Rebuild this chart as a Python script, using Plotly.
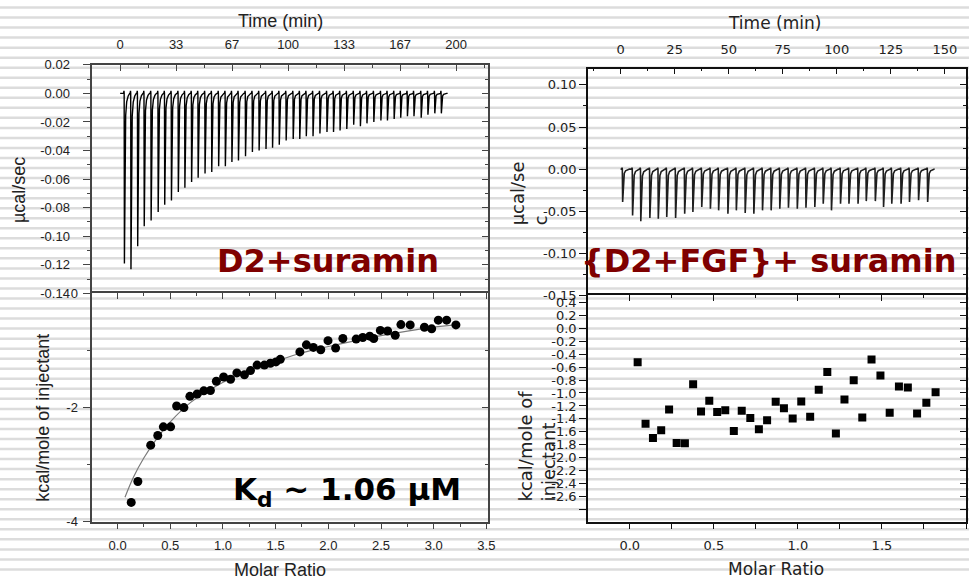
import plotly.graph_objects as go

# ---------------- data ----------------
# D2 + suramin: raw heat flow, injection times (min) and peak minima (µcal/sec)
left_inj_time = [2.4, 6.3, 10.3, 14.2, 18.3, 22.5, 26.4, 30.4, 34.5, 38.4,
                 42.4, 46.3, 50.4, 54.4, 58.5, 62.5, 66.4, 70.3, 74.5, 78.6,
                 82.6, 86.7, 90.6, 94.6, 98.7, 102.9, 106.8, 110.7, 114.7, 118.8,
                 123.0, 126.9, 130.8, 134.8, 138.9, 142.9, 146.8, 150.9, 155.1, 159.0,
                 163.0, 166.9, 170.9, 174.8, 179.1, 183.1, 187.2, 191.1]
left_inj_peak = [-0.119, -0.123, -0.107, -0.093, -0.089, -0.083, -0.078, -0.075, -0.069, -0.066,
                 -0.062, -0.059, -0.056, -0.055, -0.051, -0.051, -0.048, -0.047, -0.044, -0.041,
                 -0.040, -0.039, -0.038, -0.036, -0.033, -0.032, -0.032, -0.030, -0.030, -0.028,
                 -0.027, -0.027, -0.026, -0.025, -0.022, -0.023, -0.021, -0.020, -0.019, -0.019,
                 -0.018, -0.017, -0.016, -0.016, -0.017, -0.015, -0.014, -0.014]
left_run = [0.0, 195.0]

# D2 + suramin: integrated heats and fitted isotherm
left_ratio = [0.129, 0.192, 0.314, 0.381, 0.434, 0.503, 0.560, 0.629, 0.686, 0.755,
              0.818, 0.881, 0.937, 1.006, 1.072, 1.132, 1.204, 1.261, 1.324, 1.393,
              1.450, 1.503, 1.544, 1.730, 1.792, 1.858, 1.928, 1.997, 2.069, 2.138,
              2.264, 2.327, 2.393, 2.431, 2.494, 2.563, 2.635, 2.689, 2.777, 2.912,
              2.981, 3.044, 3.123, 3.211]
left_heat = [-3.662, -3.296, -2.659, -2.490, -2.338, -2.338, -1.972, -2.000, -1.803, -1.763,
             -1.707, -1.701, -1.538, -1.465, -1.504, -1.392, -1.425, -1.352, -1.256, -1.256,
             -1.223, -1.200, -1.155, -1.025, -0.901, -0.946, -0.986, -0.828, -0.958, -0.789,
             -0.800, -0.772, -0.749, -0.789, -0.648, -0.659, -0.732, -0.546, -0.552, -0.592,
             -0.620, -0.468, -0.468, -0.552]
fit_ratio = [0.07, 0.15, 0.25, 0.35, 0.5, 0.7, 0.9, 1.1, 1.3, 1.5,
             1.75, 2.0, 2.25, 2.5, 2.75, 3.0, 3.2]
fit_heat = [-3.57, -3.22, -2.88, -2.60, -2.25, -1.90, -1.66, -1.47, -1.32, -1.19,
            -1.04, -0.93, -0.83, -0.74, -0.66, -0.59, -0.55]

# {D2+FGF} + suramin: raw heat flow
right_inj_time = [0.8, 5.4, 9.2, 13.4, 17.3, 21.2, 25.3, 29.5, 33.3, 37.4,
                  41.4, 45.2, 49.5, 53.4, 57.5, 61.5, 65.5, 69.5, 73.5, 77.5,
                  81.6, 85.6, 89.7, 93.6, 97.4, 101.6, 105.5, 109.7, 113.5, 117.7,
                  121.5, 125.3, 129.6, 133.5, 137.7, 141.9]
right_inj_peak = [-0.039, -0.055, -0.062, -0.058, -0.059, -0.057, -0.058, -0.053, -0.051, -0.045,
                  -0.047, -0.049, -0.053, -0.049, -0.052, -0.053, -0.049, -0.049, -0.047, -0.046,
                  -0.047, -0.046, -0.045, -0.041, -0.049, -0.041, -0.041, -0.041, -0.038, -0.038,
                  -0.045, -0.041, -0.041, -0.039, -0.037, -0.039]
right_run = [0.0, 145.0]

# {D2+FGF} + suramin: integrated heats
right_ratio = [0.047, 0.094, 0.138, 0.187, 0.234, 0.279, 0.328, 0.377, 0.424, 0.473,
               0.520, 0.568, 0.619, 0.666, 0.717, 0.768, 0.817, 0.868, 0.917, 0.969,
               1.020, 1.073, 1.124, 1.175, 1.226, 1.277, 1.332, 1.383, 1.438, 1.491,
               1.546, 1.601, 1.654, 1.709, 1.764, 1.819]
right_heat = [-0.525, -1.475, -1.695, -1.575, -1.255, -1.770, -1.775, -0.865, -1.285, -1.120,
              -1.295, -1.265, -1.585, -1.275, -1.385, -1.560, -1.420, -1.135, -1.235, -1.395,
              -1.130, -1.365, -0.950, -0.675, -1.625, -1.100, -0.805, -1.380, -0.485, -0.730,
              -1.305, -0.900, -0.915, -1.315, -1.150, -0.990]

# tick values / labels
lt_time_ticks = [0, 100 / 3, 200 / 3, 100, 400 / 3, 500 / 3, 200]
lt_time_labels = ["0", "33", "67", "100", "133", "167", "200"]
lt_time_minor = [50 / 3, 50, 250 / 3, 350 / 3, 150, 550 / 3, 650 / 3]
lt_flow_ticks = [0.02, 0.0, -0.02, -0.04, -0.06, -0.08, -0.10, -0.12, -0.14]
lt_flow_labels = ["0.02", "0.00", "-0.02", "-0.04", "-0.06", "-0.08", "-0.10", "-0.12", "-0.14"]
lb_heat_ticks = [0, -2, -4]
lb_heat_labels = ["0", "-2", "-4"]
lb_ratio_ticks = [0.0, 0.5, 1.0, 1.5, 2.0, 2.5, 3.0, 3.5]
lb_ratio_labels = ["0.0", "0.5", "1.0", "1.5", "2.0", "2.5", "3.0", "3.5"]
rt_time_ticks = [0, 25, 50, 75, 100, 125, 150]
rt_time_labels = ["0", "25", "50", "75", "100", "125", "150"]
rt_flow_ticks = [0.10, 0.05, 0.0, -0.05, -0.10, -0.15]
rt_flow_labels = ["0.10", "0.05", "0.00", "-0.05", "-0.10", "-0.15"]
rb_heat_ticks = [0.4, 0.2, 0.0, -0.2, -0.4, -0.6, -0.8, -1.0, -1.2, -1.4,
                 -1.6, -1.8, -2.0, -2.2, -2.4, -2.6, -2.8]
rb_heat_labels = ["0.4", "0.2", "0.0", "-0.2", "-0.4", "-0.6", "-0.8", "-1.0", "-1.2", "-1.4",
                  "-1.6", "-1.8", "-2.0", "-2.2", "-2.4", "-2.6", " "]
rb_ratio_ticks = [0.0, 0.5, 1.0, 1.5, 2.0]
rb_ratio_labels = ["0.0", "0.5", "1.0", "1.5", "2.0"]

# ---------------- helpers ----------------
W, H = 976, 583


def fx(px):
    return px / W


def fy(py):
    return 1 - py / H


def thermogram(times, peaks, run):
    """Heat-flow trace: baseline with a sharp exothermic spike at every injection."""
    xs, ys = [run[0]], [0.0]
    for t, p in zip(times, peaks):
        xs += [t - 0.3, t - 0.12, t, t + 0.15, t + 0.5, t + 0.9, t + 1.5, t + 2.4, t + 3.3]
        ys += [0.0, 0.0018, 0.0, p, p * 0.35, p * 0.13, p * 0.05, p * 0.015, 0.0]
    xs.append(run[1])
    ys.append(0.0)
    return xs, ys


SANS_L = "Liberation Sans, Arial, sans-serif"
SANS_R = "DejaVu Sans, Verdana, sans-serif"
BOLD_R = "DejaVu Sans, Verdana, sans-serif"
TXT = "#222222"


def base_axis(font, linecolor, mirror=True):
    return dict(showgrid=False, zeroline=False, showline=True, mirror=mirror,
                linecolor=linecolor, linewidth=1.6, tickcolor=linecolor,
                tickwidth=1.2, tickfont=dict(family=font, size=13, color=TXT),
                fixedrange=True)


def overlay_axis(over, side, anchor, rng, tickvals, minor_vals, color, ticklen=6):
    return dict(overlaying=over, side=side, anchor=anchor, range=rng,
                showgrid=False, zeroline=False, showline=False,
                showticklabels=False, ticks="inside", ticklen=ticklen,
                tickcolor=color, tickwidth=1.2,
                tickmode="array", tickvals=tickvals,
                minor=dict(ticks="inside", ticklen=3, tickcolor=color,
                           tickmode="array", tickvals=minor_vals),
                fixedrange=True)


LC = "#444444"   # frame colour, left panel
RC = "#111111"   # frame colour, right panel

# panel rectangles (pixels)
L_X = [93, 492]
R_X = [592.3, 973]
LT_Y = [59.3, 294]
LB_Y = [294, 528.3]
RT_Y = [63.3, 296]
RB_Y = [296, 528.3]

# ranges
lt_xr = [-16.55, 219.3]
lt_yr = [-0.14, 0.02]
lb_xr = [-0.24, 3.52]
lb_yr = [-4.0, 0.0]
rt_xr = [-15.05, 159.8]
rt_yr = [-0.15, 0.1193]
rb_xr = [-0.248, 2.0]
rb_yr = [-2.985, 0.505]

fig = go.Figure()

lx, ly = thermogram(left_inj_time, left_inj_peak, left_run)
fig.add_trace(go.Scatter(x=lx, y=ly, mode="lines", xaxis="x", yaxis="y",
                         line=dict(color="black", width=1.4)))
fig.add_trace(go.Scatter(x=fit_ratio, y=fit_heat, mode="lines", xaxis="x2", yaxis="y2",
                         line=dict(color="#7a7a7a", width=1.2, shape="spline")))
fig.add_trace(go.Scatter(x=left_ratio, y=left_heat, mode="markers", xaxis="x2", yaxis="y2",
                         marker=dict(symbol="circle", size=9, color="black")))
rx, ry = thermogram(right_inj_time, right_inj_peak, right_run)
fig.add_trace(go.Scatter(x=rx, y=ry, mode="lines", xaxis="x3", yaxis="y3",
                         line=dict(color="#1e1e1e", width=1.6)))
fig.add_trace(go.Scatter(x=right_ratio, y=right_heat, mode="markers", xaxis="x4", yaxis="y4",
                         marker=dict(symbol="square", size=8, color="black")))

# empty traces so the overlaid tick-only axes get drawn
for xa, ya in [("x", "y5"), ("x6", "y2"), ("x2", "y6"), ("x3", "y7"), ("x8", "y4"), ("x4", "y8")]:
    fig.add_trace(go.Scatter(x=[None], y=[None], xaxis=xa, yaxis=ya, hoverinfo="skip"))

layout = dict(
    width=W, height=H, margin=dict(l=0, r=0, t=0, b=0),
    paper_bgcolor="white", plot_bgcolor="rgba(0,0,0,0)", showlegend=False,
)

# left top: time / heat flow (its lower edge is drawn by the panel below)
layout["xaxis"] = dict(base_axis(SANS_L, LC, mirror=False), domain=[fx(L_X[0]), fx(L_X[1])],
                       anchor="y", side="top", range=lt_xr, tickmode="array",
                       tickvals=lt_time_ticks, ticktext=lt_time_labels, ticks="inside",
                       ticklen=6, ticklabelstandoff=9,
                       minor=dict(ticks="inside", ticklen=3, tickcolor=LC,
                                  tickmode="array", tickvals=lt_time_minor))
layout["yaxis"] = dict(base_axis(SANS_L, LC), domain=[fy(LT_Y[1]), fy(LT_Y[0])], anchor="x",
                       range=lt_yr, tickmode="array", tickvals=lt_flow_ticks,
                       ticktext=lt_flow_labels, ticks="outside", ticklen=8,
                       ticklabelstandoff=10,
                       minor=dict(ticks="outside", ticklen=4, tickcolor=LC, dtick=0.01, tick0=0))
layout["yaxis5"] = overlay_axis("y", "right", "x", lt_yr, lt_flow_ticks,
                                [0.01 - 0.02 * k for k in range(8)], LC)

# left bottom: molar ratio / integrated heat
layout["xaxis2"] = dict(base_axis(SANS_L, LC), domain=[fx(L_X[0]), fx(L_X[1])], anchor="y2",
                        range=lb_xr, tickmode="array", tickvals=lb_ratio_ticks,
                        ticktext=lb_ratio_labels, ticks="outside", ticklen=5,
                        ticklabelstandoff=6,
                        minor=dict(ticks="outside", ticklen=3, tickcolor=LC, dtick=0.25, tick0=0))
layout["xaxis6"] = overlay_axis("x2", "top", "y2", lb_xr, lb_ratio_ticks,
                                [0.25 + 0.5 * k for k in range(7)], LC)
layout["yaxis2"] = dict(base_axis(SANS_L, LC), domain=[fy(LB_Y[1]), fy(LB_Y[0])], anchor="x2",
                        range=lb_yr, tickmode="array", tickvals=lb_heat_ticks,
                        ticktext=lb_heat_labels, ticks="outside", ticklen=8,
                        ticklabelstandoff=2,
                        minor=dict(ticks="outside", ticklen=4, tickcolor=LC, dtick=1, tick0=0))
layout["yaxis6"] = overlay_axis("y2", "right", "x2", lb_yr, lb_heat_ticks, [-1, -3], LC)

# right top
layout["xaxis3"] = dict(base_axis(SANS_R, RC, mirror=False), domain=[fx(R_X[0]), fx(R_X[1])],
                        anchor="y3", side="top", range=rt_xr, tickmode="array",
                        tickvals=rt_time_ticks, ticktext=rt_time_labels, ticks="inside",
                        ticklen=6, ticklabelstandoff=8,
                        minor=dict(ticks="inside", ticklen=3, tickcolor=RC, dtick=12.5, tick0=0))
layout["yaxis3"] = dict(base_axis(SANS_R, RC), domain=[fy(RT_Y[1]), fy(RT_Y[0])], anchor="x3",
                        range=rt_yr, tickmode="array", tickvals=rt_flow_ticks,
                        ticktext=rt_flow_labels, ticks="outside", ticklen=7,
                        ticklabelstandoff=0,
                        minor=dict(ticks="outside", ticklen=3, tickcolor=RC, dtick=0.025, tick0=0))
layout["yaxis7"] = overlay_axis("y3", "right", "x3", rt_yr, rt_flow_ticks,
                                [0.075 - 0.05 * k for k in range(5)], RC)

# right bottom
layout["xaxis4"] = dict(base_axis(SANS_R, RC), domain=[fx(R_X[0]), fx(R_X[1])], anchor="y4",
                        range=rb_xr, tickmode="array", tickvals=rb_ratio_ticks,
                        ticktext=rb_ratio_labels, ticks="outside", ticklen=5,
                        ticklabelstandoff=6,
                        minor=dict(ticks="outside", ticklen=5, tickcolor=RC, dtick=0.25, tick0=0))
layout["xaxis8"] = overlay_axis("x4", "top", "y4", rb_xr, rb_ratio_ticks,
                                [0.25 + 0.5 * k for k in range(4)], RC)
layout["yaxis4"] = dict(base_axis(SANS_R, RC), domain=[fy(RB_Y[1]), fy(RB_Y[0])], anchor="x4",
                        range=rb_yr, tickmode="array", tickvals=rb_heat_ticks,
                        ticktext=rb_heat_labels, ticks="outside", ticklen=7,
                        ticklabelstandoff=0)
layout["yaxis8"] = overlay_axis("y4", "right", "x4", rb_yr, rb_heat_ticks, [], RC)

fig.update_layout(**layout)

# striped slide background
stripes = []
y = 0.5
while y < H:
    stripes.append(dict(type="line", xref="paper", yref="paper", x0=0, x1=1,
                        y0=fy(y), y1=fy(y), layer="below",
                        line=dict(color="#dcdcdc", width=2.5)))
    y += 10.3
fig.update_layout(shapes=stripes)

# titles and captions
ann = []


def text(t, x, y, font, size, color=TXT, angle=0, xanchor="center", yanchor="middle", align="center", bold=False):
    ann.append(dict(text=f"<b>{t}</b>" if bold else t, x=fx(x), y=fy(y), xref="paper", yref="paper",
                    showarrow=False, textangle=angle, xanchor=xanchor, yanchor=yanchor,
                    align=align, font=dict(family=font, size=size, color=color)))


text("Time (min)", 283, 14, SANS_L, 18)
text("µcal/sec", 19, 188, SANS_L, 18, angle=-90)
text("kcal/mole of injectant", 43, 422, SANS_L, 18, angle=-90)
text("Molar Ratio", 282, 578, SANS_L, 18)
text("Time (min)", 780, 16, SANS_R, 17)
text("µcal/se<br>c", 533, 226, SANS_R, 18, angle=-90, yanchor="bottom", align="left")
text("kcal/mole of<br>injectant", 541, 510, SANS_R, 18, angle=-90, yanchor="bottom", align="left")
text("Molar Ratio", 782, 577, SANS_R, 17)
text("D2+suramin", 330, 261, BOLD_R, 32, color="#7f0000", bold=True)
text("K<sub>d</sub> ~ 1.06 µM", 350, 497, BOLD_R, 31, color="black", bold=True)
text("{D2+FGF}+ suramin", 774, 261, BOLD_R, 32, color="#7f0000", bold=True)

fig.update_layout(annotations=ann)

fig.write_html("out.html")
